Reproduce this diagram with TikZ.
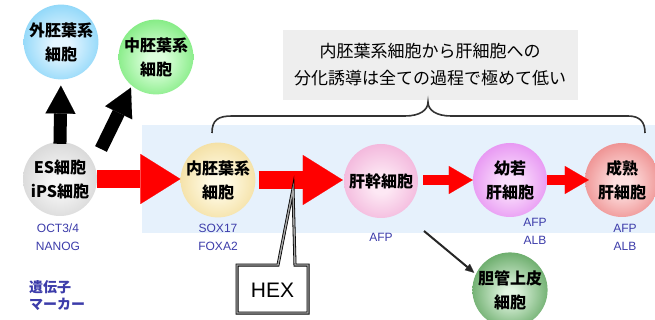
\documentclass[tikz,border=0pt]{standalone}
\usepackage{fontspec}
\setmainfont{Liberation Sans}
\newfontfamily\jp{Noto Sans CJK JP}
\usetikzlibrary{arrows.meta}
\definecolor{bandblue}{RGB}{230,241,252}
\definecolor{arrred}{RGB}{255,0,0}
\definecolor{mkblue}{RGB}{60,60,170}
\definecolor{notegray}{RGB}{238,238,238}
\definecolor{ectoin}{RGB}{228,245,255}\definecolor{ectoout}{RGB}{85,195,245}
\definecolor{mesoin}{RGB}{220,255,220}\definecolor{mesoout}{RGB}{70,222,70}
\definecolor{esin}{RGB}{246,246,246}\definecolor{esout}{RGB}{196,196,196}
\definecolor{endoin}{RGB}{255,250,228}\definecolor{endoout}{RGB}{236,206,120}
\definecolor{hepin}{RGB}{253,232,244}\definecolor{hepout}{RGB}{236,150,204}
\definecolor{youngin}{RGB}{250,222,252}\definecolor{youngout}{RGB}{218,100,236}
\definecolor{matin}{RGB}{253,222,222}\definecolor{matout}{RGB}{228,92,92}
\definecolor{cholin}{RGB}{225,245,225}\definecolor{cholout}{RGB}{30,125,30}
\pgfdeclareradialshading{shecto}{\pgfpoint{0bp}{-3bp}}{color(0bp)=(ectoin); color(6bp)=(ectoin); color(42bp)=(ectoout); color(50bp)=(ectoout)}
\pgfdeclareradialshading{shmeso}{\pgfpoint{0bp}{-3bp}}{color(0bp)=(mesoin); color(6bp)=(mesoin); color(42bp)=(mesoout); color(50bp)=(mesoout)}
\pgfdeclareradialshading{shes}{\pgfpoint{0bp}{-3bp}}{color(0bp)=(esin); color(6bp)=(esin); color(42bp)=(esout); color(50bp)=(esout)}
\pgfdeclareradialshading{shendo}{\pgfpoint{0bp}{-3bp}}{color(0bp)=(endoin); color(6bp)=(endoin); color(42bp)=(endoout); color(50bp)=(endoout)}
\pgfdeclareradialshading{shhep}{\pgfpoint{0bp}{-3bp}}{color(0bp)=(hepin); color(6bp)=(hepin); color(42bp)=(hepout); color(50bp)=(hepout)}
\pgfdeclareradialshading{shyoung}{\pgfpoint{0bp}{-3bp}}{color(0bp)=(youngin); color(6bp)=(youngin); color(42bp)=(youngout); color(50bp)=(youngout)}
\pgfdeclareradialshading{shmat}{\pgfpoint{0bp}{-3bp}}{color(0bp)=(matin); color(6bp)=(matin); color(42bp)=(matout); color(50bp)=(matout)}
\pgfdeclareradialshading{shchol}{\pgfpoint{0bp}{-3bp}}{color(0bp)=(cholin); color(4bp)=(cholin); color(42bp)=(cholout); color(50bp)=(cholout)}
\tikzset{
  cell/.style={circle, minimum size=74pt, inner sep=0pt, align=center,
    font=\jp\bfseries\fontsize{16}{24}\selectfont},
  marker/.style={text=mkblue, align=center, font=\fontsize{12}{18}\selectfont},
  redbig/.style={draw=arrred, line width=18pt,
    -{Triangle[length=40pt 0 0, width=50pt 0 0, line width=0.1pt]}},
  redsmall/.style={draw=arrred, line width=10pt,
    -{Triangle[length=24pt 0 0, width=28pt 0 0, line width=0.1pt]}},
  blkbig/.style={draw=black, line width=13pt,
    -{Triangle[length=28pt 0 0, width=30pt 0 0, line width=0.1pt]}},
  thinarrow/.style={draw=black!85, line width=2pt,
    -{Triangle[length=9pt 0 0, width=8pt 0 0, line width=0.1pt]}},
  bracestyle/.style={draw=black!80, line width=1.6pt},
}
\begin{document}
\begin{tikzpicture}[x=1pt,y=-1pt]
\useasboundingbox (0,0) rectangle (655,320);
\fill[white] (0,0) rectangle (655,320);
\fill[bandblue] (142,125) rectangle (655,233);

% header note
\node[fill=notegray, minimum width=295pt, minimum height=70pt, align=center,
  font=\jp\fontsize{17}{27}\selectfont] (note) at (430,65)
  {内胚葉系細胞から肝細胞への\\分化誘導は全ての過程で極めて低い};

% brace
\coordinate (bl) at (212,133);
\coordinate (bm) at (428,102);
\coordinate (br) at (645,133);
\draw[bracestyle] (bl) .. controls (212,120) and (218,116) .. (232,116) -- (405,116)
  .. controls (420,116) and (428,110) .. (bm)
  .. controls (428,110) and (436,116) .. (451,116) -- (628,116)
  .. controls (640,116) and (645,122) .. (br);

% cells
\node[cell, shading=shecto] (ecto) at (61,42) {外胚葉系\\細胞};
\node[cell, shading=shmeso] (meso) at (156,57) {中胚葉系\\細胞};
\node[cell, shading=shes] (es) at (60,179) {ES細胞\\iPS細胞};
\node[cell, shading=shendo] (endo) at (218,180) {内胚葉系\\細胞};
\node[cell, shading=shhep] (hep) at (381,181) {肝幹細胞};
\node[cell, shading=shyoung] (young) at (510,180) {幼若\\肝細胞};
\node[cell, shading=shmat] (mature) at (622,180) {成熟\\肝細胞};
\node[cell, shading=shchol] (chol) at (510,290) {胆管上皮\\細胞};

% markers
\node[marker] (mes) at (58,237) {OCT3/4\\NANOG};
\node[marker] (mendo) at (218,237) {SOX17\\FOXA2};
\node[marker] (mhep) at (381,237) {AFP};
\node[marker] (myoung) at (535,231) {AFP\\ALB};
\node[marker] (mmat) at (625,237) {AFP\\ALB};
\node[anchor=north west, text=mkblue, align=left, inner sep=0pt,
  font=\jp\bfseries\fontsize{14}{17}\selectfont] (gene) at (29,280) {遺伝子\\マーカー};

% black arrows
\draw[blkbig, shorten <=-2pt, shorten >=6pt] (es.north) -- (ecto.south);
\coordinate (dstart) at (101,149);
\draw[blkbig, shorten >=2pt] (dstart) -- (meso.230);

% red arrows
\draw[redbig] (es.east) -- (es.east -| endo.west);
\draw[redbig, shorten <=3pt, shorten >=1pt] (endo.east) -- (hep.west |- endo.east);
\draw[redsmall, shorten <=5pt] (hep.east |- young.west) -- (young.west);
\draw[redsmall, shorten >=-4pt] (young.east) -- (mature.west);
\coordinate (cstart) at (424,231);
\draw[thinarrow, shorten >=2pt] (cstart) -- (chol.155);

% HEX callout
\coordinate (hexptr) at (293,189);
\draw[draw=black, line width=0.8pt, double=black!35, double distance=1.4pt, fill=white]
  (237,265) -- (278,265) -- (hexptr) -- (295,265) -- (308,265) -- (308,313) -- (237,313) -- cycle;
\node[font=\fontsize{21}{24}\selectfont] (hex) at (272.5,290) {HEX};
\end{tikzpicture}
\end{document}
